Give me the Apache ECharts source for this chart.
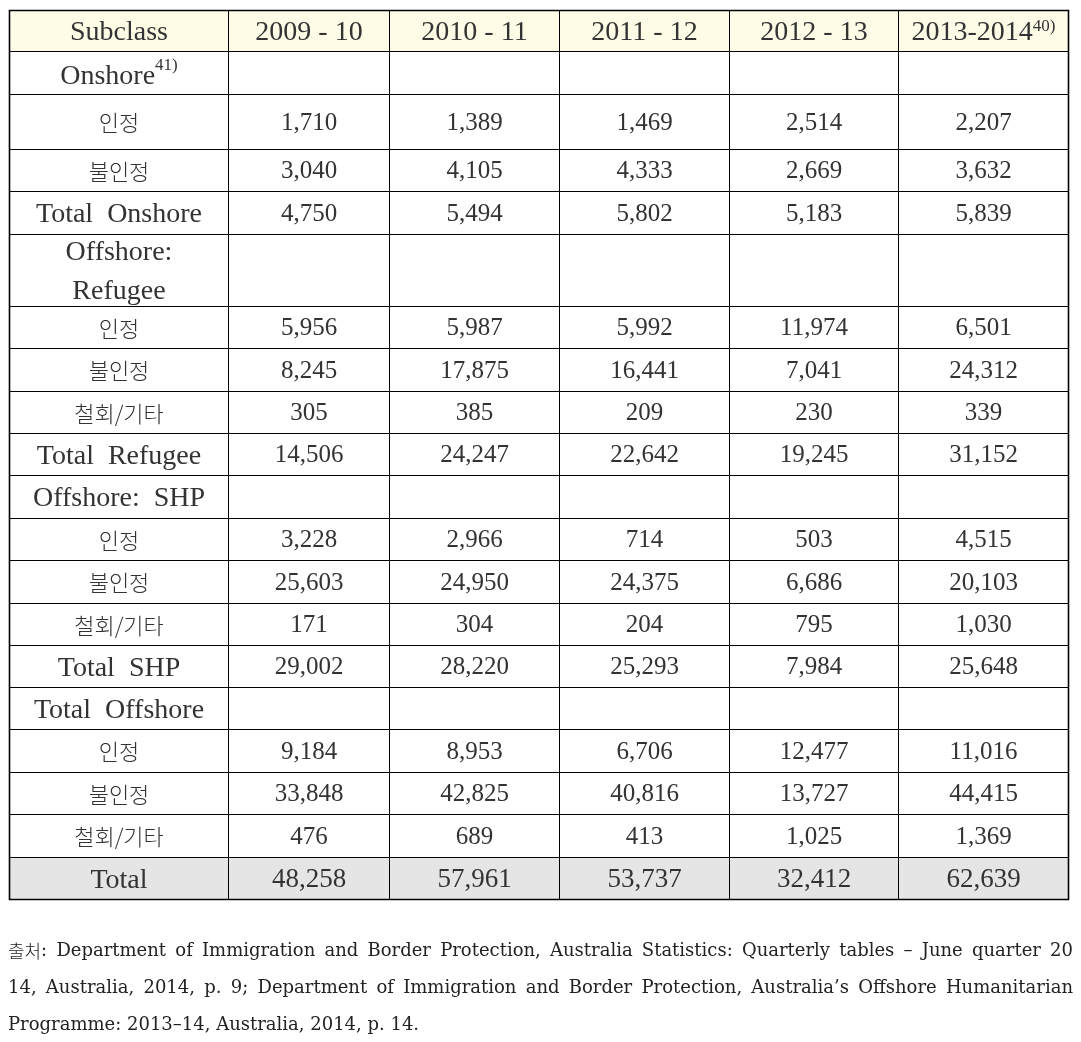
<!DOCTYPE html>
<html>
<head>
<meta charset="utf-8">
<script src="https://cdn.jsdelivr.net/npm/echarts@6/dist/echarts.min.js"></script>
<style>
  html, body { margin: 0; padding: 0; background: #fff; }
  #chart { width: 1081px; height: 1042px; }
</style>
</head>
<body>
<div id="chart"></div>
<script>
// 표 데이터
const headerLabel = 'Subclass';
const years = ['2009 - 10', '2010 - 11', '2011 - 12', '2012 - 13', '2013-2014'];
const yearNotes = ['', '', '', '', '40)'];

const rowLabels = [
  'Onshore', '인정', '불인정', 'Total  Onshore',
  'Offshore:\nRefugee', '인정', '불인정', '철회/기타', 'Total  Refugee',
  'Offshore:  SHP', '인정', '불인정', '철회/기타', 'Total  SHP',
  'Total  Offshore', '인정', '불인정', '철회/기타', 'Total'
];
const rowNotes = ['41)', '', '', '', '', '', '', '', '', '', '', '', '', '', '', '', '', '', ''];
const rowKinds = [
  'section', 'sub', 'sub', 'total',
  'section', 'sub', 'sub', 'sub', 'total',
  'section', 'sub', 'sub', 'sub', 'total',
  'section', 'sub', 'sub', 'sub', 'grand'
];

const onshoreGranted = [1710, 1389, 1469, 2514, 2207];
const onshoreRefused = [3040, 4105, 4333, 2669, 3632];
const onshoreTotal = [4750, 5494, 5802, 5183, 5839];
const refugeeGranted = [5956, 5987, 5992, 11974, 6501];
const refugeeRefused = [8245, 17875, 16441, 7041, 24312];
const refugeeWithdrawn = [305, 385, 209, 230, 339];
const refugeeTotal = [14506, 24247, 22642, 19245, 31152];
const shpGranted = [3228, 2966, 714, 503, 4515];
const shpRefused = [25603, 24950, 24375, 6686, 20103];
const shpWithdrawn = [171, 304, 204, 795, 1030];
const shpTotal = [29002, 28220, 25293, 7984, 25648];
const offshoreGranted = [9184, 8953, 6706, 12477, 11016];
const offshoreRefused = [33848, 42825, 40816, 13727, 44415];
const offshoreWithdrawn = [476, 689, 413, 1025, 1369];
const grandTotal = [48258, 57961, 53737, 32412, 62639];

const rowValues = [
  null, onshoreGranted, onshoreRefused, onshoreTotal,
  null, refugeeGranted, refugeeRefused, refugeeWithdrawn, refugeeTotal,
  null, shpGranted, shpRefused, shpWithdrawn, shpTotal,
  null, offshoreGranted, offshoreRefused, offshoreWithdrawn, grandTotal
];

const sourceLines = [
  '출처: Department of Immigration and Border Protection, Australia Statistics: Quarterly tables – June quarter 20',
  '14, Australia, 2014, p. 9; Department of Immigration and Border Protection, Australia’s Offshore Humanitarian',
  'Programme: 2013–14, Australia, 2014, p. 14.'
];

// 레이아웃 (px 단위 셀 크기)
const colWidths = [219, 161, 170, 170, 169, 170];
const rowHeights = [41, 43, 55, 42, 43, 72, 42, 43, 42, 42, 43, 42, 43, 42, 42, 42, 43, 42, 43, 42];

const colEdges = [0];
colWidths.forEach(w => colEdges.push(colEdges[colEdges.length - 1] + w));
const rowEdges = [0];
rowHeights.forEach(h => rowEdges.push(rowEdges[rowEdges.length - 1] + h));
const tableW = colEdges[colEdges.length - 1];
const tableH = rowEdges[rowEdges.length - 1];

const SERIF = '"Liberation Serif", "Times New Roman", serif';
const WIDE_SERIF = '"DejaVu Serif", serif';
const KR = '"Noto Sans CJK KR", sans-serif';

const rich = {
  h: { fontFamily: SERIF, fontSize: 28, color: '#111' },
  lab: { fontFamily: SERIF, fontSize: 28, color: '#111', lineHeight: 39 },
  kr: { fontFamily: KR, fontSize: 22, fontWeight: 300, color: '#666' },
  num: { fontFamily: SERIF, fontSize: 25, color: '#111' },
  tot: { fontFamily: SERIF, fontSize: 27, color: '#000' },
  sup: { fontFamily: SERIF, fontSize: 17, color: '#111', verticalAlign: 'top', padding: [0, 0, 12, 0] }
};

// 셀 목록 만들기
const cells = [];
cells.push({ col: 0, row: 0, text: '{h|' + headerLabel + '}', bg: '#fefce6', shift: 2 });
years.forEach((y, i) => {
  const note = yearNotes[i] ? '{sup|' + yearNotes[i] + '}' : '';
  cells.push({ col: i + 1, row: 0, text: '{h|' + y + '}' + note, bg: '#fefce6', shift: 2 });
});
rowLabels.forEach((label, r) => {
  const kind = rowKinds[r];
  const bg = kind === 'grand' ? '#e5e5e5' : '#fff';
  let text;
  let shift = 2;
  if (kind === 'sub') {
    text = '{kr|' + label + '}';
    shift = 1;
  } else {
    text = label.split('\n').map(s => '{lab|' + s + '}').join('\n');
    if (rowNotes[r]) {
      text += '{sup|' + rowNotes[r] + '}';
      shift = 4;
    }
  }
  cells.push({ col: 0, row: r + 1, text: text, bg: bg, shift: shift });
  for (let c = 0; c < years.length; c++) {
    const vals = rowValues[r];
    let t = '';
    if (vals) {
      const style = kind === 'grand' ? 'tot' : 'num';
      t = '{' + style + '|' + echarts.format.addCommas(vals[c]) + '}';
    }
    cells.push({ col: c + 1, row: r + 1, text: t, bg: bg, shift: 1 });
  }
});

function renderCell(params, api) {
  const col = api.value(0);
  const row = api.value(1);
  const cell = cells[params.dataIndex];
  const p0 = api.coord([colEdges[col], rowEdges[row]]);
  const p1 = api.coord([colEdges[col + 1], rowEdges[row + 1]]);
  return {
    type: 'rect',
    shape: { x: p0[0], y: p0[1], width: p1[0] - p0[0], height: p1[1] - p0[1] },
    style: { fill: cell.bg, stroke: '#000', lineWidth: 1 },
    textContent: {
      style: { text: cell.text, rich: rich, align: 'center', verticalAlign: 'middle' }
    },
    textConfig: { position: 'inside', offset: [0, cell.shift || 0] }
  };
}

function renderFrame(params, api) {
  const p0 = api.coord([0, 0]);
  const p1 = api.coord([tableW, tableH]);
  return {
    type: 'rect',
    shape: { x: p0[0], y: p0[1], width: p1[0] - p0[0], height: p1[1] - p0[1] },
    style: { fill: 'none', stroke: '#000', lineWidth: 1.6 }
  };
}

// 출처 문단: 양쪽 정렬
const ctx = document.createElement('canvas').getContext('2d');
const FOOT_SIZE = 18;
function measure(word) {
  if (word.indexOf('출처') === 0) {
    ctx.font = '18px ' + KR;
    const a = ctx.measureText('출처').width;
    ctx.font = FOOT_SIZE + 'px ' + WIDE_SERIF;
    return a + ctx.measureText(word.slice(2)).width;
  }
  ctx.font = FOOT_SIZE + 'px ' + WIDE_SERIF;
  return ctx.measureText(word).width;
}
const footLeft = 8;
const footRight = 1073;
const footTop = 951;
const footGap = 37;
const footGraphics = [];
sourceLines.forEach((line, li) => {
  const words = line.split(' ');
  const widths = words.map(measure);
  const sum = widths.reduce((a, b) => a + b, 0);
  const last = li === sourceLines.length - 1;
  const gap = last ? measure(' ') : (footRight - footLeft - sum) / (words.length - 1);
  let x = footLeft;
  words.forEach((w, wi) => {
    let text = w;
    if (w.indexOf('출처') === 0) text = '{k|출처}{s|' + w.slice(2) + '}';
    footGraphics.push({
      type: 'text',
      x: x,
      y: footTop + li * footGap,
      style: {
        text: text,
        fontFamily: WIDE_SERIF,
        fontSize: FOOT_SIZE,
        fill: '#222',
        verticalAlign: 'middle',
        rich: {
          k: { fontFamily: KR, fontSize: 18, fontWeight: 300, color: '#666' },
          s: { fontFamily: WIDE_SERIF, fontSize: FOOT_SIZE, color: '#222' }
        }
      }
    });
    x += widths[wi] + gap;
  });
});

const chart = echarts.init(document.getElementById('chart'));
chart.setOption({
  animation: false,
  grid: { left: 9.5, top: 10.5, width: tableW, height: tableH },
  xAxis: { type: 'value', min: 0, max: tableW, show: false },
  yAxis: { type: 'value', min: 0, max: tableH, inverse: true, show: false },
  graphic: footGraphics,
  series: [
    {
      type: 'custom',
      renderItem: renderCell,
      encode: { x: 0, y: 1 },
      data: cells.map(c => [c.col, c.row]),
      silent: true
    },
    {
      type: 'custom',
      renderItem: renderFrame,
      encode: { x: 0, y: 1 },
      data: [[0, 0]],
      z: 5,
      silent: true
    }
  ]
});
window.addEventListener('resize', () => chart.resize());
</script>
</body>
</html>
